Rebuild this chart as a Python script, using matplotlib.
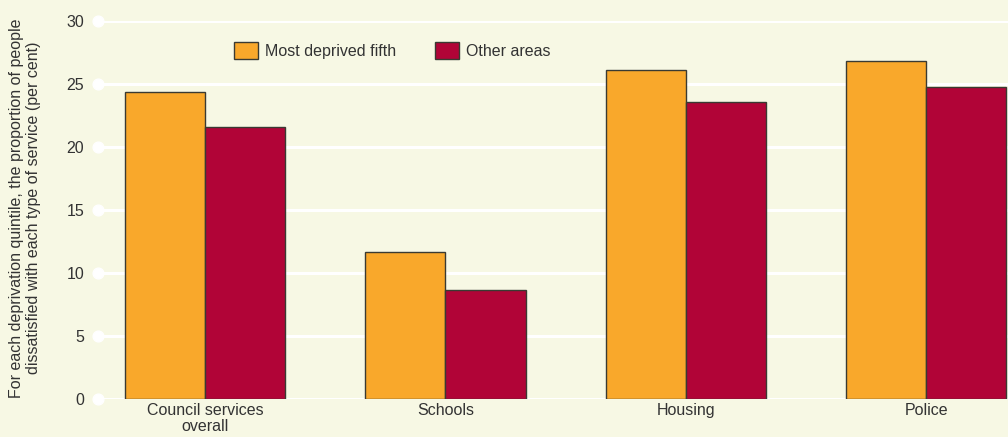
import matplotlib
matplotlib.use('Agg')
import matplotlib.pyplot as plt
import matplotlib.patches as mpatches
import numpy as np

plt.rcParams['font.family'] = ['Liberation Sans', 'DejaVu Sans']

categories = ['Council services\noverall', 'Schools', 'Housing', 'Police']
most_deprived = [24.4, 11.7, 26.1, 26.8]
other_areas = [21.6, 8.65, 23.6, 24.8]
y_ticks = [0, 5, 10, 15, 20, 25, 30]

BG = '#f7f8e4'
ORANGE = '#f9a82b'
CRIMSON = '#b10437'
EDGE = '#3a3a32'
TXT = '#333333'

fig = plt.figure(figsize=(10.08, 4.37), dpi=100)
fig.patch.set_facecolor(BG)
ax = fig.add_axes([98 / 1008, 1 - 399 / 437, 910 / 1008, 378 / 437])
ax.set_facecolor(BG)

x = np.arange(len(categories))
w = 1 / 3
ax.bar(x - w / 2, most_deprived, w, color=ORANGE, edgecolor=EDGE, lw=1.0, zorder=3)
ax.bar(x + w / 2, other_areas, w, color=CRIMSON, edgecolor=EDGE, lw=1.0, zorder=3)

ax.set_xlim(-0.445, 3.34)
ax.set_ylim(0, 30)

# white gridlines with a round dot at the left end
for t in y_ticks:
    ax.axhline(t, color='white', lw=2.2, zorder=1)
ax.scatter([ax.get_xlim()[0]] * len(y_ticks), y_ticks, s=60, color='white',
           zorder=2, clip_on=False)

ax.set_yticks(y_ticks)
ax.set_yticklabels([str(t) for t in y_ticks])
ax.set_xticks(x)
ax.set_xticklabels(categories, linespacing=1.05)
ax.tick_params(axis='both', length=0, labelsize=11.5, colors=TXT)
ax.tick_params(axis='y', pad=10)
ax.tick_params(axis='x', pad=3)
for s in ax.spines.values():
    s.set_visible(False)

fig.text(25 / 1008, 1 - 208 / 437,
         'For each deprivation quintile, the proportion of people\n'
         'dissatisfied with each type of service (per cent)',
         rotation=90, ha='center', va='center', fontsize=11.5, color=TXT,
         linespacing=1.15)

handles = [
    mpatches.Patch(facecolor=ORANGE, edgecolor=EDGE, lw=1.0, label='Most deprived fifth'),
    mpatches.Patch(facecolor=CRIMSON, edgecolor=EDGE, lw=1.0, label='Other areas'),
]
leg = ax.legend(handles=handles, loc='upper left', bbox_to_anchor=(0.134, 0.983),
                ncol=2, frameon=False, fontsize=11.5, handlelength=1.5,
                handleheight=1.3, handletextpad=0.45, columnspacing=2.4)
for t in leg.get_texts():
    t.set_color(TXT)

fig.savefig('out.png', dpi=100, facecolor=fig.get_facecolor())
